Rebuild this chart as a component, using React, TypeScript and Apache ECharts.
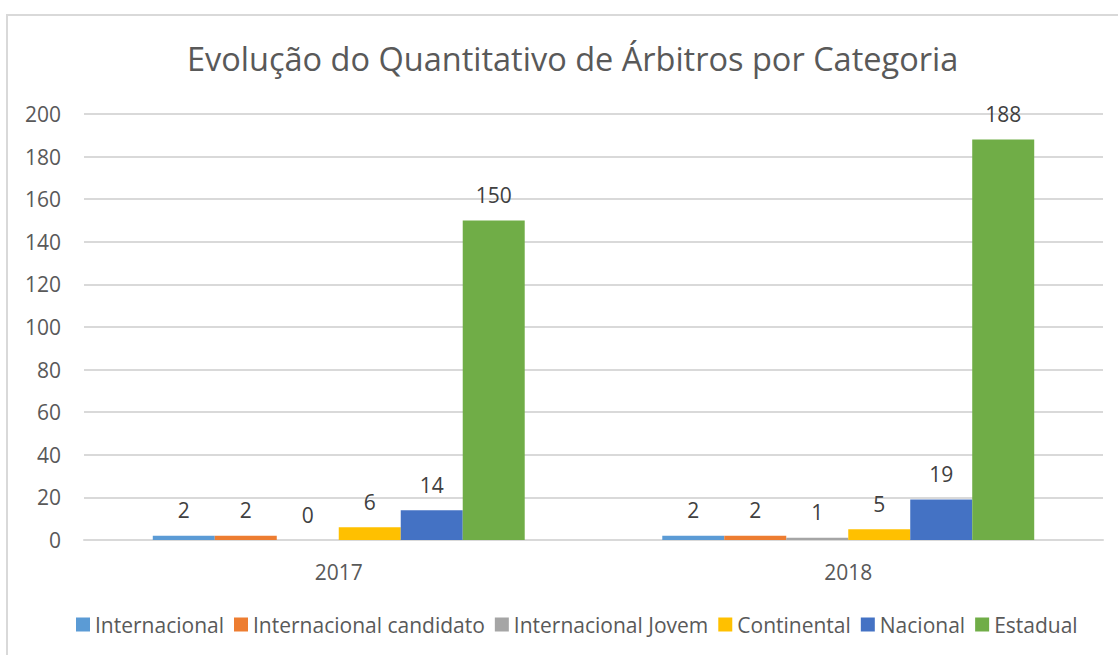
import React, { useEffect, useRef } from "react";
import * as echarts from "echarts";

const categories = ["2017", "2018"];
const seriesNames = [
  "Internacional",
  "Internacional candidato",
  "Internacional Jovem",
  "Continental",
  "Nacional",
  "Estadual",
];
const internacional = [2, 2];
const internacionalCandidato = [2, 2];
const internacionalJovem = [0, 1];
const continental = [6, 5];
const nacional = [14, 19];
const estadual = [150, 188];
const colors = ["#5B9BD5", "#ED7D31", "#A5A5A5", "#FFC000", "#4472C4", "#70AD47"];
const yTicks = { min: 0, max: 200, interval: 20 };

const FONT = "'Open Sans', 'Noto Sans', sans-serif";

export default function App() {
  const ref = useRef<HTMLDivElement>(null);
  useEffect(() => {
    if (!ref.current) return;
    const chart = echarts.init(ref.current, undefined, { renderer: "svg" });
    const values = [
      internacional,
      internacionalCandidato,
      internacionalJovem,
      continental,
      nacional,
      estadual,
    ];
    chart.setOption({
      animation: false,
      color: colors,
      textStyle: { fontFamily: FONT },
      title: {
        text: "Evolução do Quantitativo de Árbitros por Categoria",
        left: 182,
        top: 37,
        textStyle: { fontFamily: FONT, fontSize: 32.5, fontWeight: "normal", color: "#595959" },
      },
      graphic: [
        {
          type: "rect",
          shape: { x: 7, y: 15, width: 1200, height: 700 },
          style: { fill: "none", stroke: "#D9D9D9", lineWidth: 2 },
          silent: true,
        },
      ],
      legend: {
        data: seriesNames,
        bottom: 15,
        left: 71,
        itemWidth: 14,
        itemHeight: 14,
        itemGap: 10,
        icon: "rect",
        textStyle: { fontFamily: FONT, fontSize: 21, color: "#595959" },
      },
      grid: { left: 84, right: 15, top: 114, bottom: 115, containLabel: false },
      xAxis: {
        type: "category",
        data: categories,
        axisLine: { lineStyle: { color: "#D9D9D9", width: 2 } },
        axisTick: { show: false },
        axisLabel: { fontFamily: FONT, fontSize: 21, color: "#595959", margin: 21 },
      },
      yAxis: {
        type: "value",
        min: yTicks.min,
        max: yTicks.max,
        interval: yTicks.interval,
        axisLine: { show: false },
        axisTick: { show: false },
        splitLine: { lineStyle: { color: "#D9D9D9", width: 2 } },
        axisLabel: { fontFamily: FONT, fontSize: 21, color: "#595959", margin: 23 },
      },
      series: seriesNames.map((name, i) => ({
        name,
        type: "bar",
        data: values[i],
        barGap: "0%",
        barCategoryGap: "27%",
        label: {
          show: true,
          position: "top",
          distance: 15,
          fontFamily: FONT,
          fontSize: 21,
          color: "#404040",
        },
      })),
    });
    return () => chart.dispose();
  }, []);
  return (
    <div
      ref={ref}
      style={{ position: "absolute", left: 0, top: 0, width: 1118, height: 655, background: "#fff" }}
    />
  );
}
